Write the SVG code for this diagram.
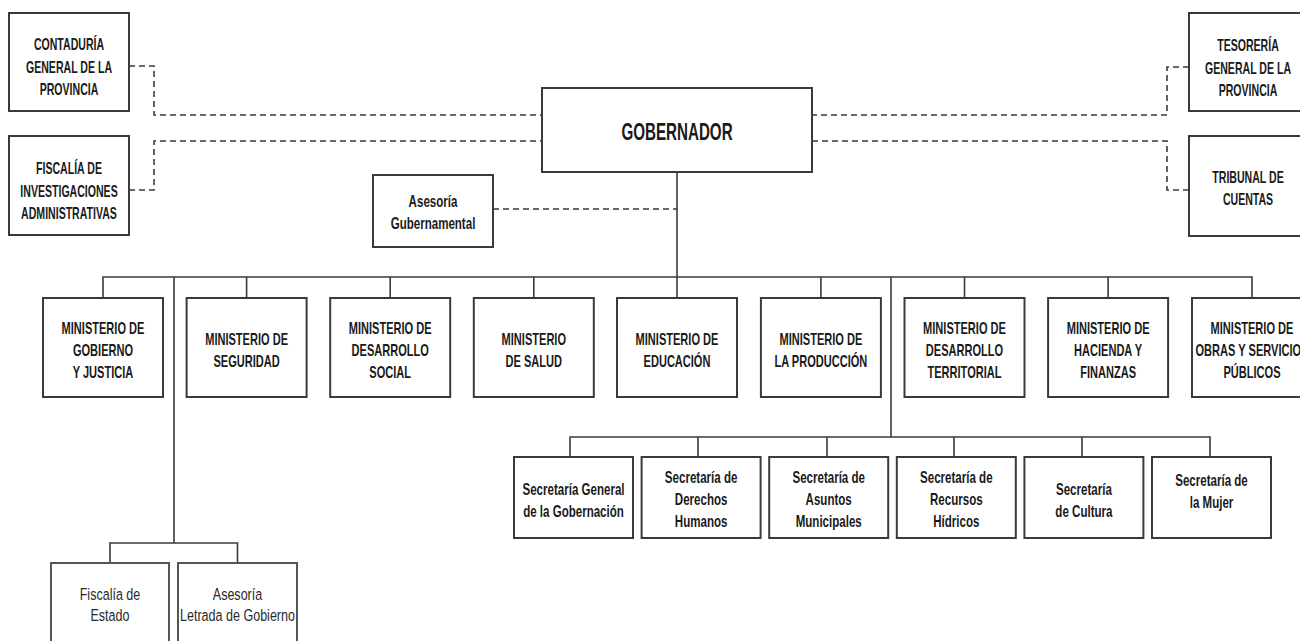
<svg xmlns="http://www.w3.org/2000/svg" width="1300" height="641" viewBox="0 0 1300 641">
<style>
.box{fill:#fff;stroke:#3a3a3a;stroke-width:2}
.ln{fill:none;stroke:#3a3a3a;stroke-width:1.6}
.dash{fill:none;stroke:#3a3a3a;stroke-width:1.6;stroke-dasharray:6 4}
.t{font-family:"Liberation Sans",Arial,sans-serif;font-size:16.5px;font-weight:bold;fill:#1a1a1a;text-anchor:middle}
.n{font-family:"Liberation Sans",Arial,sans-serif;font-size:16.5px;font-weight:normal;fill:#2a2a2a;text-anchor:middle}
.g{font-family:"Liberation Sans",Arial,sans-serif;font-size:23px;font-weight:bold;fill:#1a1a1a;text-anchor:middle}
</style>
<rect width="1300" height="641" fill="#fff"/>
<g id="connectors">
<path class="dash" d="M129,66 H154 V115 H542"/>
<path class="dash" d="M129,190 H154 V141 H542"/>
<path class="dash" d="M1189,67 H1167 V115 H812"/>
<path class="dash" d="M1189,190 H1167 V141 H812"/>
<path class="dash" d="M493,209 H677"/>
<path class="ln" d="M677,172 V298"/>
<path class="ln" d="M103,298 V277 H1252 V298"/>
<path class="ln" d="M246.6,277 V298 M390.2,277 V298 M533.8,277 V298 M820.9,277 V298 M964.5,277 V298 M1108.1,277 V298"/>
<path class="ln" d="M174,277 V543"/>
<path class="ln" d="M110,563 V543 H237.5 V563"/>
<path class="ln" d="M891,277 V437"/>
<path class="ln" d="M570,457 V437 H1210 V457"/>
<path class="ln" d="M698,437 V457 M827,437 V457 M954,437 V457 M1082,437 V457"/>
</g>
<g id="gobernador">
<rect class="box" x="542" y="88" width="270" height="84"/>
<text class="g" transform="translate(677 0) scale(0.66 1)" x="0" y="140">GOBERNADOR</text>
</g>
<g id="contaduria">
<rect class="box" x="9" y="13" width="120" height="98"/>
<text class="t" transform="translate(69 0) scale(0.64 1)"><tspan x="0" y="50">CONTADURÍA</tspan><tspan x="0" y="73">GENERAL DE LA</tspan><tspan x="0" y="95">PROVINCIA</tspan></text>
</g>
<g id="fiscalia-inv">
<rect class="box" x="9" y="136" width="120" height="99"/>
<text class="t" transform="translate(69 0) scale(0.64 1)"><tspan x="0" y="174">FISCALÍA DE</tspan><tspan x="0" y="197">INVESTIGACIONES</tspan><tspan x="0" y="219">ADMINISTRATIVAS</tspan></text>
</g>
<g id="tesoreria">
<rect class="box" x="1189" y="13" width="120" height="98"/>
<text class="t" transform="translate(1248 0) scale(0.64 1)"><tspan x="0" y="51">TESORERÍA</tspan><tspan x="0" y="74">GENERAL DE LA</tspan><tspan x="0" y="96">PROVINCIA</tspan></text>
</g>
<g id="tribunal">
<rect class="box" x="1189" y="136" width="120" height="100"/>
<text class="t" transform="translate(1248 0) scale(0.64 1)"><tspan x="0" y="183">TRIBUNAL DE</tspan><tspan x="0" y="205">CUENTAS</tspan></text>
</g>
<g id="asesoria-gub">
<rect class="box" x="373" y="175" width="120" height="72"/>
<text class="t" transform="translate(433 0) scale(0.7 1)"><tspan x="0" y="207">Asesoría</tspan><tspan x="0" y="229">Gubernamental</tspan></text>
</g>
<g id="min-gobierno">
<rect class="box" x="43" y="298" width="120" height="99"/>
<text class="t" transform="translate(103 0) scale(0.67 1)"><tspan x="0" y="334">MINISTERIO DE</tspan><tspan x="0" y="356">GOBIERNO</tspan><tspan x="0" y="378">Y JUSTICIA</tspan></text>
</g>
<g id="min-seguridad">
<rect class="box" x="186.6" y="298" width="120" height="99"/>
<text class="t" transform="translate(246.6 0) scale(0.67 1)"><tspan x="0" y="345">MINISTERIO DE</tspan><tspan x="0" y="367">SEGURIDAD</tspan></text>
</g>
<g id="min-desarrollo-social">
<rect class="box" x="330.2" y="298" width="120" height="99"/>
<text class="t" transform="translate(390.2 0) scale(0.67 1)"><tspan x="0" y="334">MINISTERIO DE</tspan><tspan x="0" y="356">DESARROLLO</tspan><tspan x="0" y="378">SOCIAL</tspan></text>
</g>
<g id="min-salud">
<rect class="box" x="473.8" y="298" width="120" height="99"/>
<text class="t" transform="translate(533.8 0) scale(0.67 1)"><tspan x="0" y="345">MINISTERIO</tspan><tspan x="0" y="367">DE SALUD</tspan></text>
</g>
<g id="min-educacion">
<rect class="box" x="617" y="298" width="120" height="99"/>
<text class="t" transform="translate(677 0) scale(0.67 1)"><tspan x="0" y="345">MINISTERIO DE</tspan><tspan x="0" y="367">EDUCACIÓN</tspan></text>
</g>
<g id="min-produccion">
<rect class="box" x="760.9" y="298" width="120" height="99"/>
<text class="t" transform="translate(820.9 0) scale(0.67 1)"><tspan x="0" y="345">MINISTERIO DE</tspan><tspan x="0" y="367">LA PRODUCCIÓN</tspan></text>
</g>
<g id="min-territorial">
<rect class="box" x="904.5" y="298" width="120" height="99"/>
<text class="t" transform="translate(964.5 0) scale(0.67 1)"><tspan x="0" y="334">MINISTERIO DE</tspan><tspan x="0" y="356">DESARROLLO</tspan><tspan x="0" y="378">TERRITORIAL</tspan></text>
</g>
<g id="min-hacienda">
<rect class="box" x="1048.1" y="298" width="120" height="99"/>
<text class="t" transform="translate(1108.1 0) scale(0.67 1)"><tspan x="0" y="334">MINISTERIO DE</tspan><tspan x="0" y="356">HACIENDA Y</tspan><tspan x="0" y="378">FINANZAS</tspan></text>
</g>
<g id="min-obras">
<rect class="box" x="1192" y="298" width="120" height="99"/>
<text class="t" transform="translate(1252 0) scale(0.67 1)"><tspan x="0" y="334">MINISTERIO DE</tspan><tspan x="0" y="356">OBRAS Y SERVICIOS</tspan><tspan x="0" y="378">PÚBLICOS</tspan></text>
</g>
<g id="sec-general">
<rect class="box" x="514" y="457" width="119" height="81"/>
<text class="t" transform="translate(573.5 0) scale(0.7 1)"><tspan x="0" y="495">Secretaría General</tspan><tspan x="0" y="517">de la Gobernación</tspan></text>
</g>
<g id="sec-ddhh">
<rect class="box" x="641.6" y="457" width="119" height="81"/>
<text class="t" transform="translate(701.1 0) scale(0.7 1)"><tspan x="0" y="483">Secretaría de</tspan><tspan x="0" y="505">Derechos</tspan><tspan x="0" y="527">Humanos</tspan></text>
</g>
<g id="sec-municipales">
<rect class="box" x="769.2" y="457" width="119" height="81"/>
<text class="t" transform="translate(828.7 0) scale(0.7 1)"><tspan x="0" y="483">Secretaría de</tspan><tspan x="0" y="505">Asuntos</tspan><tspan x="0" y="527">Municipales</tspan></text>
</g>
<g id="sec-hidricos">
<rect class="box" x="896.8" y="457" width="119" height="81"/>
<text class="t" transform="translate(956.3 0) scale(0.7 1)"><tspan x="0" y="483">Secretaría de</tspan><tspan x="0" y="505">Recursos</tspan><tspan x="0" y="527">Hídricos</tspan></text>
</g>
<g id="sec-cultura">
<rect class="box" x="1024.4" y="457" width="119" height="81"/>
<text class="t" transform="translate(1083.9 0) scale(0.7 1)"><tspan x="0" y="495">Secretaría</tspan><tspan x="0" y="517">de Cultura</tspan></text>
</g>
<g id="sec-mujer">
<rect class="box" x="1152" y="457" width="119" height="81"/>
<text class="t" transform="translate(1211.5 0) scale(0.7 1)"><tspan x="0" y="486">Secretaría de</tspan><tspan x="0" y="508">la Mujer</tspan></text>
</g>
<g id="fiscalia-estado">
<rect class="box" x="51" y="563" width="118" height="100" style="stroke:#555"/>
<text class="n" transform="translate(110 0) scale(0.76 1)"><tspan x="0" y="600">Fiscalía de</tspan><tspan x="0" y="621">Estado</tspan></text>
</g>
<g id="asesoria-letrada">
<rect class="box" x="178" y="563" width="119" height="100" style="stroke:#555"/>
<text class="n" transform="translate(237.5 0) scale(0.76 1)"><tspan x="0" y="600">Asesoría</tspan><tspan x="0" y="621">Letrada de Gobierno</tspan></text>
</g>
</svg>
